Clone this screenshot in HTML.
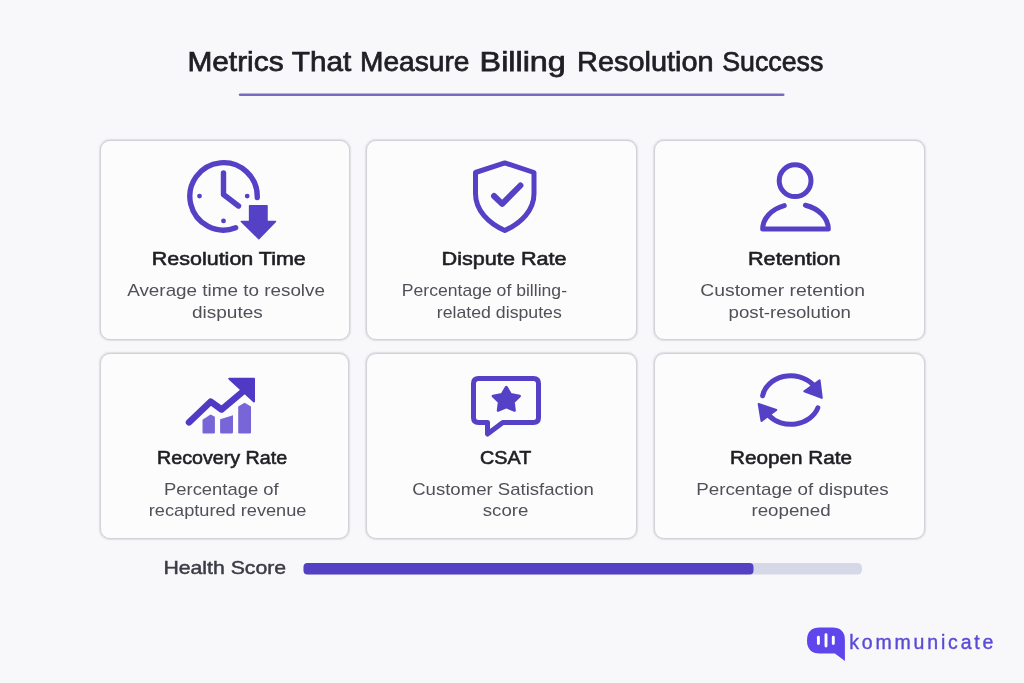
<!DOCTYPE html>
<html><head><meta charset="utf-8"><title>Metrics That Measure Billing Resolution Success</title>
<style>
html,body{margin:0;padding:0}
body{width:1024px;height:683px;overflow:hidden;position:relative;background:#f8f8fa;font-family:"Liberation Sans",sans-serif}
.card{position:absolute;box-sizing:border-box;border:1.4px solid #d2d2d9;border-radius:10px;background:#fcfcfd;box-shadow:0 0 1.2px 0.8px rgba(214,214,222,0.75)}
svg{position:absolute;left:0;top:0;will-change:transform}
svg text{font-family:"Liberation Sans",sans-serif}
</style></head><body>
<div class="card" style="left:100px;top:140px;width:249.5px;height:200px"></div>
<div class="card" style="left:366px;top:140px;width:271px;height:200px"></div>
<div class="card" style="left:654px;top:140px;width:270.5px;height:200px"></div>
<div class="card" style="left:100px;top:352.7px;width:249.3px;height:186.3px"></div>
<div class="card" style="left:366px;top:352.7px;width:271px;height:186.3px"></div>
<div class="card" style="left:654px;top:352.7px;width:270.5px;height:186.3px"></div>
<svg width="1024" height="683" viewBox="0 0 1024 683">
 <g fill="none" stroke="#5441c6" stroke-width="5" stroke-linecap="round" stroke-linejoin="round">
  <path d="M257.23 197.53 A33.7 33.7 0 1 0 235.63 227.81" stroke-width="5.4"/>
  <path d="M223.5 173 V194.5 L238.5 206" stroke-width="5.4"/>
  <path d="M504.8 162.9 L475.5 172.5 V193.5 C475.5 210 488 223 504.8 230.5 C521.6 223 534 210 534 193.5 V172.5 Z"/>
  <path d="M494 196 L502.2 203.8 L520.4 185.5" stroke-width="6"/>
  <circle cx="795.1" cy="180.65" r="15.9"/>
  <path d="M784.3 205.6 A32.8 25 0 0 0 762.7 229.1 H828.3 A32.8 25 0 0 0 805.4 205.3"/>
  <path d="M478.5 378.5 H533.5 Q538.5 378.5 538.5 383.5 V417.4 Q538.5 422.4 533.5 422.4 H502.8 L487.5 434 V422.4 H478.5 Q473.5 422.4 473.5 417.4 V383.5 Q473.5 378.5 478.5 378.5 Z"/>
  <path d="M762.63 395.78 A28.6 24.3 0 0 1 812.71 384.38"/>
  <path d="M817.84 407.91 A28.6 24.3 0 0 1 768.57 415.29"/>
 </g>
 <g fill="#5441c6">
  <circle cx="199.5" cy="196.1" r="2.4"/>
  <circle cx="247.2" cy="196.1" r="2.4"/>
  <circle cx="223.5" cy="220.9" r="2.4"/>
  <path d="M249.6 205.7 H267 V221.5 H275.5 L258.8 238.7 L241.3 221.5 H249.6 Z" stroke="#5441c6" stroke-width="1.5" stroke-linejoin="round"/>
  <path d="M506.30 387.00 L510.74 394.34 L519.65 395.98 L513.49 402.16 L514.55 410.52 L506.30 407.00 L498.05 410.52 L499.11 402.16 L492.95 395.98 L501.86 394.34 Z" stroke="#5441c6" stroke-width="2.6" stroke-linejoin="round"/>
  <path d="M804.3 391.3 L819.6 380.4 L821.8 397.9 Z" stroke="#5441c6" stroke-width="2" stroke-linejoin="round"/>
  <path d="M758.7 404 L776.3 410 L761.5 421 Z" stroke="#5441c6" stroke-width="2" stroke-linejoin="round"/>
 </g>
 <g fill="#7866d8">
  <path d="M202.5 419.8 L210.6 414.4 L214.9 416.8 V432.2 Q214.9 433.4 213.7 433.4 H203.7 Q202.5 433.4 202.5 432.2 Z"/>
  <path d="M220.1 419.2 Q226 417.6 233 415.3 V432.2 Q233 433.4 231.8 433.4 H221.3 Q220.1 433.4 220.1 432.2 Z"/>
  <path d="M238.2 406.6 L244.6 402.8 L251 406.6 V432.2 Q251 433.4 249.8 433.4 H239.4 Q238.2 433.4 238.2 432.2 Z"/>
 </g>
 <path d="M189 422.3 L210.7 401.6 L221.6 409.5 L243 391.5" fill="none" stroke="#5039c4" stroke-width="6.5" stroke-linecap="round" stroke-linejoin="round"/>
 <path d="M229.3 378.8 H254 V401.5 Z" fill="#5039c4" stroke="#5039c4" stroke-width="2" stroke-linejoin="round"/>
 <rect x="238.8" y="93.4" width="545.7" height="2.6" rx="1.3" fill="#776ac2"/>
 <rect x="303.5" y="563" width="558.5" height="11.5" rx="4.6" fill="#d6d8e8"/>
 <rect x="303.5" y="563" width="450" height="11.5" rx="4" fill="#5440c3"/>
 <path d="M820 627.6 H832.3 Q844.9 627.6 844.9 640.2 V661 L834.9 653.5 H820 Q807 653.5 807 640.55 Q807 627.6 820 627.6 Z" fill="#5e45ec"/>
 <g stroke="#fff" stroke-linecap="round" stroke-width="2.9">
  <line x1="818.4" y1="637.3" x2="818.4" y2="643.5"/>
  <line x1="826" y1="634.7" x2="826" y2="646.1"/>
  <line x1="833.3" y1="637.3" x2="833.3" y2="643.5"/>
 </g>

 <text x="187.40" y="70.9" font-size="28" font-weight="400" fill="#1f1f25" textLength="96.20" lengthAdjust="spacingAndGlyphs" style="stroke:#1f1f25;stroke-width:0.75px;">Metrics</text>
 <text x="291.80" y="70.9" font-size="28" font-weight="400" fill="#1f1f25" textLength="59.40" lengthAdjust="spacingAndGlyphs" style="stroke:#1f1f25;stroke-width:0.75px;">That</text>
 <text x="360.00" y="70.9" font-size="28" font-weight="400" fill="#1f1f25" textLength="109.40" lengthAdjust="spacingAndGlyphs" style="stroke:#1f1f25;stroke-width:0.75px;">Measure</text>
 <text x="479.60" y="70.9" font-size="28" font-weight="400" fill="#1f1f25" textLength="86.20" lengthAdjust="spacingAndGlyphs" style="stroke:#1f1f25;stroke-width:0.75px;">Billing</text>
 <text x="577.00" y="70.9" font-size="28" font-weight="400" fill="#1f1f25" textLength="136.60" lengthAdjust="spacingAndGlyphs" style="stroke:#1f1f25;stroke-width:0.75px;">Resolution</text>
 <text x="722.20" y="70.9" font-size="28" font-weight="400" fill="#1f1f25" textLength="101.20" lengthAdjust="spacingAndGlyphs" style="stroke:#1f1f25;stroke-width:0.75px;">Success</text>
 <text x="151.80" y="265" font-size="19.2" font-weight="400" fill="#1f1f23" textLength="154.00" lengthAdjust="spacingAndGlyphs" style="stroke:#1f1f23;stroke-width:0.6px;">Resolution Time</text>
 <text x="127.20" y="295.9" font-size="17" font-weight="400" fill="#505058" textLength="197.80" lengthAdjust="spacingAndGlyphs" style="">Average time to resolve</text>
 <text x="192.00" y="317.6" font-size="17" font-weight="400" fill="#505058" textLength="70.80" lengthAdjust="spacingAndGlyphs" style="">disputes</text>
 <text x="441.60" y="265" font-size="19.2" font-weight="400" fill="#1f1f23" textLength="125.00" lengthAdjust="spacingAndGlyphs" style="stroke:#1f1f23;stroke-width:0.6px;">Dispute Rate</text>
 <text x="401.80" y="295.9" font-size="17" font-weight="400" fill="#505058" textLength="165.20" lengthAdjust="spacingAndGlyphs" style="">Percentage of billing-</text>
 <text x="436.80" y="317.8" font-size="17" font-weight="400" fill="#505058" textLength="125.00" lengthAdjust="spacingAndGlyphs" style="">related disputes</text>
 <text x="748.00" y="265" font-size="19.2" font-weight="400" fill="#1f1f23" textLength="92.60" lengthAdjust="spacingAndGlyphs" style="stroke:#1f1f23;stroke-width:0.6px;">Retention</text>
 <text x="700.20" y="295.8" font-size="17" font-weight="400" fill="#505058" textLength="164.80" lengthAdjust="spacingAndGlyphs" style="">Customer retention</text>
 <text x="728.60" y="317.6" font-size="17" font-weight="400" fill="#505058" textLength="122.40" lengthAdjust="spacingAndGlyphs" style="">post-resolution</text>
 <text x="157.00" y="464.3" font-size="19.2" font-weight="400" fill="#1f1f23" textLength="130.20" lengthAdjust="spacingAndGlyphs" style="stroke:#1f1f23;stroke-width:0.6px;">Recovery Rate</text>
 <text x="164.00" y="494.5" font-size="17" font-weight="400" fill="#505058" textLength="114.60" lengthAdjust="spacingAndGlyphs" style="">Percentage of</text>
 <text x="148.80" y="516.2" font-size="17" font-weight="400" fill="#505058" textLength="157.60" lengthAdjust="spacingAndGlyphs" style="">recaptured revenue</text>
 <text x="480.00" y="464.4" font-size="19.2" font-weight="400" fill="#1f1f23" textLength="51.20" lengthAdjust="spacingAndGlyphs" style="stroke:#1f1f23;stroke-width:0.6px;">CSAT</text>
 <text x="412.20" y="494.5" font-size="17" font-weight="400" fill="#505058" textLength="181.60" lengthAdjust="spacingAndGlyphs" style="">Customer Satisfaction</text>
 <text x="482.80" y="516.2" font-size="17" font-weight="400" fill="#505058" textLength="45.60" lengthAdjust="spacingAndGlyphs" style="">score</text>
 <text x="730.00" y="464.3" font-size="19.2" font-weight="400" fill="#1f1f23" textLength="122.00" lengthAdjust="spacingAndGlyphs" style="stroke:#1f1f23;stroke-width:0.6px;">Reopen Rate</text>
 <text x="696.20" y="494.7" font-size="17" font-weight="400" fill="#505058" textLength="192.40" lengthAdjust="spacingAndGlyphs" style="">Percentage of disputes</text>
 <text x="751.40" y="516.2" font-size="17" font-weight="400" fill="#505058" textLength="79.20" lengthAdjust="spacingAndGlyphs" style="">reopened</text>
 <text x="163.40" y="574.3" font-size="18.5" font-weight="400" fill="#3b3b44" textLength="122.80" lengthAdjust="spacingAndGlyphs" style="stroke:#3b3b44;stroke-width:0.45px;">Health Score</text>
 <text x="849.20" y="649.2" font-size="19.5" font-weight="400" fill="#5a4bd6" textLength="144.20" lengthAdjust="spacing" style="stroke:#5a4bd6;stroke-width:0.4px;">kommunicate</text>
</svg>
</body></html>
